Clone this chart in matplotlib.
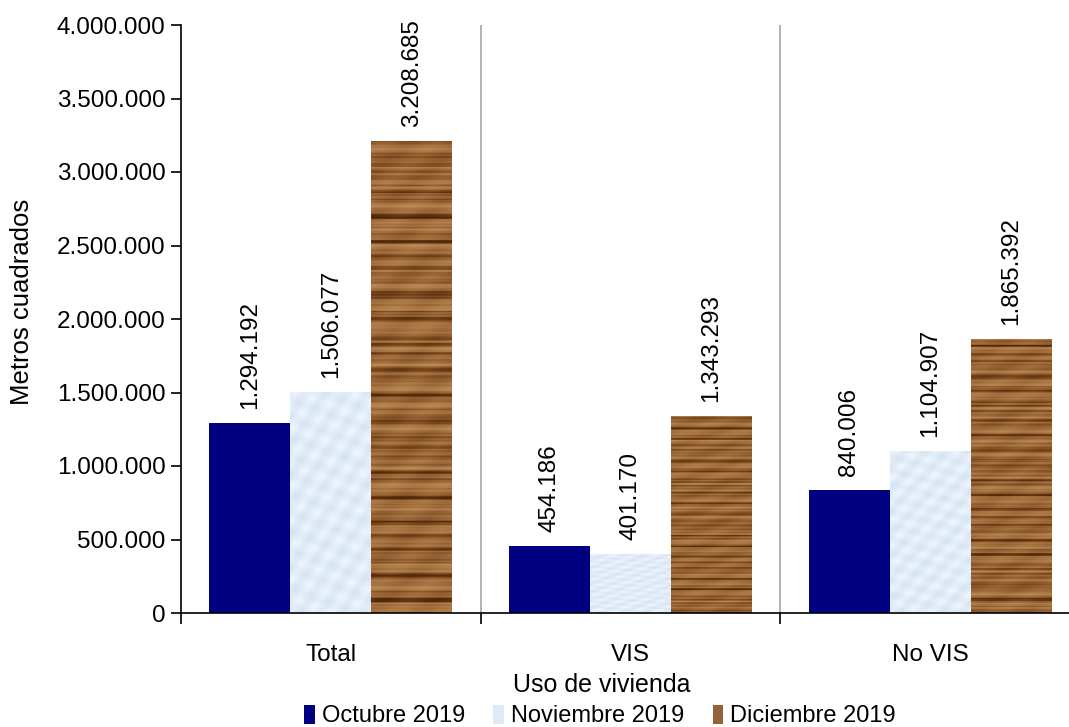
import numpy as np
import matplotlib
matplotlib.use("Agg")
import matplotlib.pyplot as plt
from matplotlib.colors import LinearSegmentedColormap
from matplotlib.patches import Patch

plt.rcParams['font.family'] = ['Liberation Sans', 'DejaVu Sans']

categories = ['Total', 'VIS', 'No VIS']
series_names = ['Octubre 2019', 'Noviembre 2019', 'Diciembre 2019']
octubre = [1294192, 454186, 840006]
noviembre = [1506077, 401170, 1104907]
diciembre = [3208685, 1343293, 1865392]
yticks = [0, 500000, 1000000, 1500000, 2000000, 2500000, 3000000, 3500000, 4000000]


def fmt_es(v):
    return f"{v:,.0f}".replace(",", ".")


def wood_texture(rows=400, cols=40, phase=0.0):
    # procedural horizontal grain, purely decorative
    y = np.arange(rows)[:, None] + phase
    x = np.arange(cols)[None, :]
    v = (0.62 + 0.12 * np.sin(y * 0.37) + 0.10 * np.sin(y * 0.93 + 1.3)
         + 0.07 * np.sin(y * 2.3 + 0.4) + 0.06 * np.sin(x * 0.25 + y * 0.17))
    v = v - 0.4 * (np.sin(y * 0.29 + 2.0) > 0.9) - 0.25 * (np.sin(y * 0.53 + 0.7) > 0.94)
    return np.clip(v, 0, 1)


def paper_texture(rows=200, cols=60):
    y = np.arange(rows)[:, None]
    x = np.arange(cols)[None, :]
    v = 0.5 + 0.2 * np.sin(x * 0.41 + y * 0.23) + 0.15 * np.sin(x * 0.17 - y * 0.37 + 1.0)
    return np.clip(v, 0, 1)


wood_cmap = LinearSegmentedColormap.from_list('wood', ['#4e2608', '#7c4a1e', '#a57040', '#bf9058'])
paper_cmap = LinearSegmentedColormap.from_list('paper', ['#d6e4f3', '#e1ecf8', '#edf4fc'])

fig = plt.figure(figsize=(10.69, 7.27), dpi=100)
ax = fig.add_axes([181 / 1069, 1 - 613 / 727, 899 / 1069, 588 / 727])

x = np.arange(len(categories))
w = 0.27
b1 = ax.bar(x - w, octubre, w, color='#000080', zorder=2)
b2 = ax.bar(x, noviembre, w, color='#dfeaf7', zorder=2)
b3 = ax.bar(x + w, diciembre, w, color='#93633a', zorder=2)

for i, bar in enumerate(b3):
    im = ax.imshow(wood_texture(phase=i * 37), cmap=wood_cmap, aspect='auto',
                   extent=[bar.get_x(), bar.get_x() + bar.get_width(), 0, bar.get_height()],
                   interpolation='bilinear', zorder=2.5)
    im.set_clip_path(bar)
for bar in b2:
    im = ax.imshow(paper_texture(), cmap=paper_cmap, aspect='auto',
                   extent=[bar.get_x(), bar.get_x() + bar.get_width(), 0, bar.get_height()],
                   interpolation='bilinear', zorder=2.5)
    im.set_clip_path(bar)

for bars, vals in [(b1, octubre), (b2, noviembre), (b3, diciembre)]:
    for bar, v in zip(bars, vals):
        ax.annotate(fmt_es(v), (bar.get_x() + bar.get_width() / 2, v),
                    xytext=(0, 10), textcoords='offset points', rotation=90,
                    ha='center', va='bottom', fontsize=17.5)

ax.set_xlim(-0.5, 2.5)
ax.set_ylim(0, 4000000)
ax.set_yticks(yticks)
ax.set_yticklabels([fmt_es(t) for t in yticks], fontsize=17.5)
ax.set_xticks([-0.5, 0.5, 1.5, 2.5])
ax.set_xticklabels([])
ax.set_xticks(x, minor=True)
ax.set_xticklabels(categories, minor=True, fontsize=17.5)
ax.tick_params(axis='x', which='minor', length=0, pad=22)
ax.tick_params(axis='x', which='major', length=8, width=1.2, direction='out')
ax.tick_params(axis='y', length=7, width=1.2, direction='out', pad=4)
for s in ['top', 'right']:
    ax.spines[s].set_visible(False)
ax.spines['left'].set_linewidth(1.2)
ax.spines['bottom'].set_linewidth(1.2)
for gx in [0.5, 1.5]:
    ax.axvline(gx, color='#a6a6a6', lw=1.2, zorder=1)

fig.text(22 / 1069, 1 - 302 / 727, 'Metros cuadrados', rotation=90,
         ha='center', va='center', fontsize=18.5)
fig.text(602 / 1069, 1 - 685 / 727, 'Uso de vivienda', ha='center', va='center', fontsize=18)

handles = [Patch(facecolor='#000080'), Patch(facecolor='#dfeaf7'), Patch(facecolor='#93633a')]
fig.legend(handles, series_names, loc='center', bbox_to_anchor=(600 / 1069, 1 - 716 / 727),
           ncol=3, frameon=False, fontsize=17, handlelength=0.45, handleheight=0.85,
           handletextpad=0.3, columnspacing=1.2, borderaxespad=0)

fig.savefig('out.png', dpi=100)
